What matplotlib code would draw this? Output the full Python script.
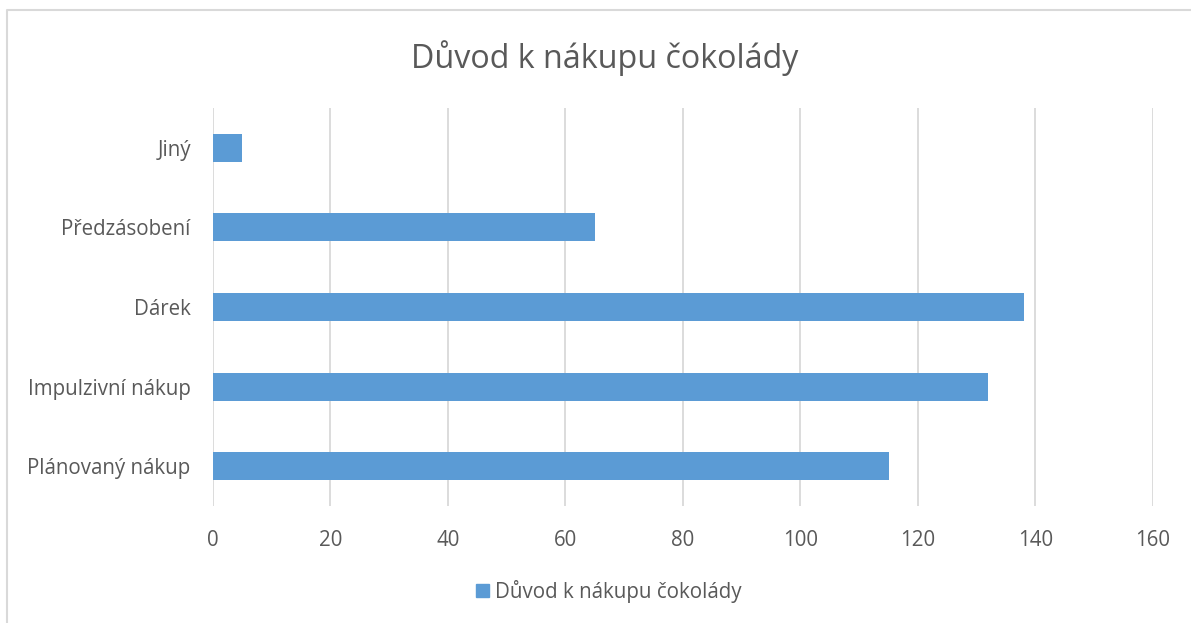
import matplotlib.pyplot as plt
from matplotlib.lines import Line2D
from matplotlib.patches import Patch

categories = ['Plánovaný nákup', 'Impulzivní nákup', 'Dárek', 'Předzásobení', 'Jiný']
values = [115, 132, 138, 65, 5]
x_ticks = [0, 20, 40, 60, 80, 100, 120, 140, 160]

title = 'Důvod k nákupu čokolády'
bar_color = '#5b9bd5'
text_color = '#595959'
grid_color = '#d9d9d9'

plt.rcParams['font.family'] = ['Open Sans', 'DejaVu Sans']

fig = plt.figure(figsize=(11.91, 6.23), dpi=100)
ax = fig.add_axes([0.1788, 0.1878, 0.7892, 0.6388])

ax.barh(range(len(categories)), values, height=0.35, color=bar_color, zorder=3)
ax.set_yticks(range(len(categories)))
ax.set_yticklabels(categories)
ax.set_ylim(-0.5, len(categories) - 0.5)
ax.set_xlim(0, 160)
ax.set_xticks(x_ticks)

ax.grid(axis='x', color=grid_color, linewidth=1.3, zorder=0)
for s in ax.spines.values():
    s.set_visible(False)
ax.tick_params(length=0, labelsize=14.8, colors=text_color)
ax.tick_params(axis='y', pad=16)
ax.tick_params(axis='x', pad=17)

fig.text(0.508, 0.907, title, ha='center', va='center', fontsize=23.2, color=text_color)

fig.legend(handles=[Patch(color=bar_color, label=title)], loc='center',
           bbox_to_anchor=(0.511, 0.051), frameon=False, fontsize=14.8,
           labelcolor=text_color, handlelength=0.65, handleheight=0.65,
           handletextpad=0.25)

# chart frame (top and left edges visible)
fig.add_artist(Line2D([0.0055, 0.0055, 1.0], [0.0, 0.984, 0.984],
                      transform=fig.transFigure, color=grid_color, linewidth=1.5))

fig.savefig('out.png', dpi=100)
